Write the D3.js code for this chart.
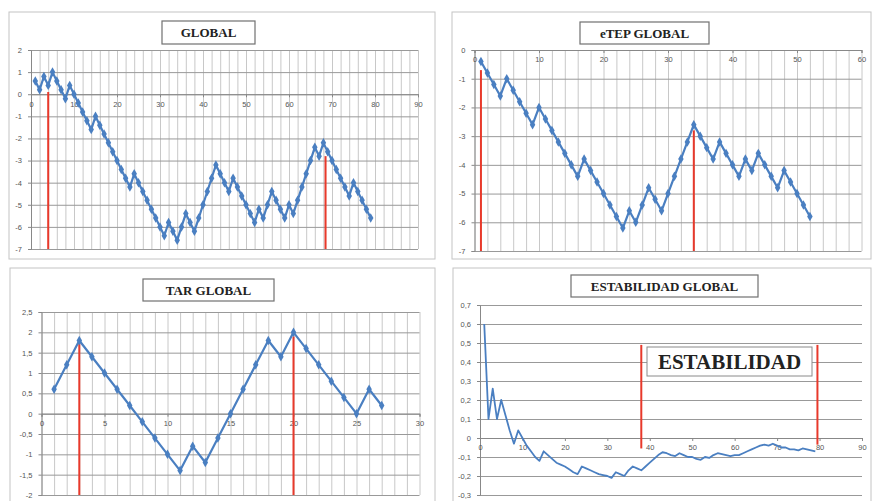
<!DOCTYPE html>
<html>
<head>
<meta charset="utf-8">
<script src="https://cdn.jsdelivr.net/npm/d3@7/dist/d3.min.js"></script>
<style>
  body { margin: 0; background: #fff; }
  svg { display: block; }
  .tick text { font-family: "Liberation Sans", Arial, sans-serif; font-size: 7.5px; fill: #555; }
</style>
</head>
<body>
<svg id="svg"></svg>
<script>
// GLOBAL (x = 1..79)
const globalValues = [0.6, 0.2, 0.8, 0.4, 1.0, 0.6, 0.2, -0.2, 0.4, 0.0,
  -0.4, -0.8, -1.2, -1.6, -1.0, -1.4, -1.8, -2.2, -2.6, -3.0,
  -3.4, -3.8, -4.2, -3.6, -4.0, -4.4, -4.8, -5.2, -5.6, -6.0,
  -6.4, -5.8, -6.2, -6.6, -6.0, -5.4, -5.8, -6.2, -5.6, -5.0,
  -4.4, -3.8, -3.2, -3.6, -4.0, -4.4, -3.8, -4.2, -4.6, -5.0,
  -5.4, -5.8, -5.2, -5.6, -5.0, -4.4, -4.8, -5.2, -5.6, -5.0,
  -5.4, -4.8, -4.2, -3.6, -3.0, -2.4, -2.8, -2.2, -2.6, -3.0,
  -3.4, -3.8, -4.2, -4.6, -4.0, -4.4, -4.8, -5.2, -5.6];
const globalMarks = [[4, 0.1], [68.5, -2.8]];

// eTEP GLOBAL (x = 1..52)
const etepValues = [-0.4, -0.8, -1.2, -1.6, -1.0, -1.4, -1.8, -2.2, -2.6, -2.0,
  -2.4, -2.8, -3.2, -3.6, -4.0, -4.4, -3.8, -4.2, -4.6, -5.0,
  -5.4, -5.8, -6.2, -5.6, -6.0, -5.4, -4.8, -5.2, -5.6, -5.0,
  -4.4, -3.8, -3.2, -2.6, -3.0, -3.4, -3.8, -3.2, -3.6, -4.0,
  -4.4, -3.8, -4.2, -3.6, -4.0, -4.4, -4.8, -4.2, -4.6, -5.0,
  -5.4, -5.8];
const etepMarks = [[1, -0.7], [34, -2.8]];

// TAR GLOBAL (x = 1..27)
const tarValues = [0.6, 1.2, 1.8, 1.4, 1.0, 0.6, 0.2, -0.2, -0.6, -1.0,
  -1.4, -0.8, -1.2, -0.6, 0.0, 0.6, 1.2, 1.8, 1.4, 2.0,
  1.6, 1.2, 0.8, 0.4, 0.0, 0.6, 0.2];
const tarMarks = [[3, 1.8], [20, 1.9]];

// ESTABILIDAD GLOBAL (x = 1..79)
const estValues = [0.60, 0.10, 0.26, 0.10, 0.20, 0.12, 0.04, -0.03, 0.04, 0.00,
  -0.04, -0.07, -0.10, -0.12, -0.07, -0.09, -0.11, -0.13, -0.14, -0.15,
  -0.165, -0.18, -0.19, -0.15, -0.16, -0.17, -0.18, -0.19, -0.195, -0.20,
  -0.21, -0.18, -0.19, -0.20, -0.17, -0.15, -0.16, -0.17, -0.15, -0.13,
  -0.11, -0.09, -0.075, -0.08, -0.09, -0.095, -0.08, -0.09, -0.10, -0.10,
  -0.11, -0.115, -0.10, -0.105, -0.09, -0.08, -0.085, -0.09, -0.095, -0.09,
  -0.09, -0.08, -0.07, -0.06, -0.05, -0.04, -0.035, -0.04, -0.03, -0.04,
  -0.05, -0.05, -0.06, -0.06, -0.065, -0.055, -0.06, -0.065, -0.07];
const estMarks = [[38, 0.49, -0.055], [79.5, 0.49, -0.035]];

const blue = "#4a7fc1";
const red = "#e8392b";
const es = d3.formatLocale({decimal: ",", thousands: ".", grouping: [3], currency: ["", "€"], minus: "-"});

const svg = d3.select("svg")
              .attr("width", 876)
              .attr("height", 501);

function drawPanel(p) {
  const g = svg.append("g");

  g.append("rect")
   .attr("x", p.box[0]).attr("y", p.box[1])
   .attr("width", p.box[2]).attr("height", p.box[3])
   .attr("fill", "#fff")
   .attr("stroke", "#c4c4c4");

  const x = d3.scaleLinear().domain(p.xDomain).range(p.xRange);
  const y = d3.scaleLinear().domain(p.yDomain).range(p.yRange);
  const plotW = p.xRange[1] - p.xRange[0];
  const plotH = p.yRange[0] - p.yRange[1];

  // vertical grid
  if (p.vStep) {
    g.append("g")
     .attr("transform", "translate(0," + p.yRange[1] + ")")
     .call(d3.axisTop(x).tickValues(d3.range(p.xDomain[0], p.xDomain[1] + 0.001, p.vStep))
                        .tickSize(-plotH).tickFormat(""))
     .call(a => a.select(".domain").remove())
     .selectAll("line").attr("stroke", "#c8c8c8");
  }

  // horizontal grid
  g.append("g")
   .attr("transform", "translate(" + p.xRange[0] + ",0)")
   .call(d3.axisLeft(y).tickValues(p.yTicks).tickSize(-plotW).tickFormat(""))
   .call(a => a.select(".domain").remove())
   .selectAll("line").attr("stroke", "#999");

  // y axis
  g.append("g")
   .attr("transform", "translate(" + p.xRange[0] + ",0)")
   .call(d3.axisLeft(y).tickValues(p.yTicks).tickSize(3).tickPadding(6).tickFormat(es.format(p.yFmt)))
   .call(a => a.select(".domain").attr("stroke", "#888"))
   .selectAll("line").attr("stroke", "#888");

  // x axis at y = 0
  g.append("g")
   .attr("transform", "translate(0," + y(0) + ")")
   .call(d3.axisBottom(x).tickValues(p.xTicks).tickSize(3).tickPadding(4).tickFormat(d3.format("d")))
   .call(a => a.select(".domain").attr("stroke", "#888"))
   .selectAll("line").attr("stroke", "#888");

  // red markers
  g.selectAll(".redline")
   .data(p.marks)
   .enter()
   .append("line")
   .attr("x1", d => x(d[0])).attr("x2", d => x(d[0]))
   .attr("y1", d => y(d[1]))
   .attr("y2", d => d.length > 2 ? y(d[2]) : p.yRange[0])
   .attr("stroke", red)
   .attr("stroke-width", 2);

  const line = d3.line()
                 .x((d, i) => x(i + 1))
                 .y(d => y(d));

  g.append("path")
   .datum(p.values)
   .attr("d", line)
   .attr("fill", "none")
   .attr("stroke", blue)
   .attr("stroke-width", p.markers ? 2.2 : 1.8)
   .attr("stroke-linejoin", "round");

  if (p.markers) {
    g.selectAll(".pt")
     .data(p.values)
     .enter()
     .append("path")
     .attr("d", d3.symbol(d3.symbolDiamond).size(26))
     .attr("transform", (d, i) => "translate(" + x(i + 1) + "," + y(d) + ")")
     .attr("fill", blue);
  }

  // title
  const tb = p.titleBox;
  g.append("rect")
   .attr("x", tb[0]).attr("y", tb[1])
   .attr("width", tb[2]).attr("height", tb[3])
   .attr("fill", "#fff")
   .attr("stroke", "#707070")
   .attr("stroke-width", 1.2);
  g.append("text")
   .attr("x", tb[0] + tb[2] / 2)
   .attr("y", tb[1] + tb[3] / 2 + 4.5)
   .attr("text-anchor", "middle")
   .style("font-family", "'Liberation Serif', 'Times New Roman', serif")
   .style("font-weight", "bold")
   .style("font-size", "13px")
   .style("fill", "#222")
   .text(p.title);

  return {x, y, g};
}

drawPanel({
  box: [9, 12, 426, 247], title: "GLOBAL", titleBox: [162, 21, 93, 23],
  xDomain: [0, 90], xRange: [31, 418], yDomain: [-7, 2], yRange: [249, 50],
  xTicks: d3.range(0, 91, 10), yTicks: d3.range(-7, 3, 1), yFmt: "d", vStep: 2,
  values: globalValues, marks: globalMarks, markers: true
});

drawPanel({
  box: [452, 12, 419, 247], title: "eTEP GLOBAL", titleBox: [580, 22, 129, 22],
  xDomain: [0, 60], xRange: [474.5, 861.5], yDomain: [-7, 0], yRange: [251, 50],
  xTicks: d3.range(0, 61, 10), yTicks: d3.range(-7, 1, 1), yFmt: "d", vStep: 2,
  values: etepValues, marks: etepMarks, markers: true
});

drawPanel({
  box: [10, 268, 425, 245], title: "TAR GLOBAL", titleBox: [143, 279, 131, 22],
  xDomain: [0, 30], xRange: [41.5, 419.5], yDomain: [-2, 2.5], yRange: [495, 312],
  xTicks: d3.range(0, 31, 5), yTicks: d3.range(-2, 2.51, 0.5), yFmt: "", vStep: 1,
  values: tarValues, marks: tarMarks, markers: true
});

const est = drawPanel({
  box: [453, 268, 418, 245], title: "ESTABILIDAD GLOBAL", titleBox: [571, 275, 187, 22],
  xDomain: [0, 90], xRange: [480, 862], yDomain: [-0.3, 0.7], yRange: [495, 305],
  xTicks: d3.range(0, 91, 10), yTicks: d3.range(-3, 8, 1).map(d => d / 10), yFmt: "", vStep: 0,
  values: estValues, marks: estMarks, markers: false
});

// ESTABILIDAD label box
est.g.append("rect")
   .attr("x", 647).attr("y", 347)
   .attr("width", 165).attr("height", 29)
   .attr("fill", "#fff")
   .attr("stroke", "#8a8a8a");
est.g.append("text")
   .attr("x", 729.5).attr("y", 369)
   .attr("text-anchor", "middle")
   .style("font-family", "'Liberation Serif', 'Times New Roman', serif")
   .style("font-weight", "bold")
   .style("font-size", "21px")
   .style("fill", "#222")
   .text("ESTABILIDAD");
</script>
</body>
</html>
